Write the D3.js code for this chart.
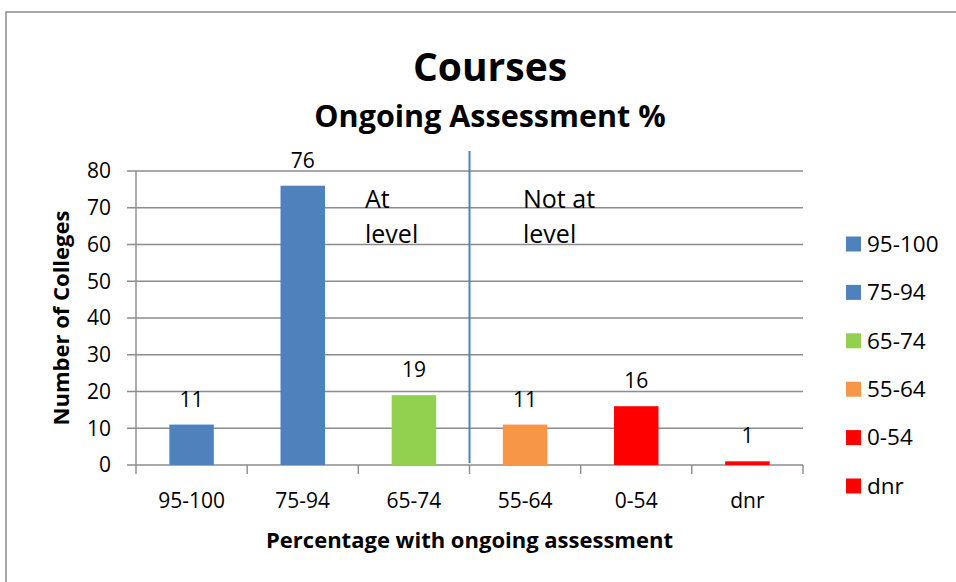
<!DOCTYPE html>
<html>
<head>
<meta charset="utf-8">
<script src="https://cdn.jsdelivr.net/npm/d3@7"></script>
<style>
  body { margin: 0; background: #fff; }
  svg text { font-family: "Open Sans", "Noto Sans", sans-serif; fill: #000; }
</style>
</head>
<body>
<div id="chart"></div>
<script>
// Chart data
let categories = ["95-100", "75-94", "65-74", "55-64", "0-54", "dnr"];
let counts = [11, 76, 19, 11, 16, 1];
let barColors = ["#4F81BD", "#4F81BD", "#92D050", "#F79646", "#FF0000", "#FF0000"];
let yTicks = [0, 10, 20, 30, 40, 50, 60, 70, 80];

let width = 956;
let height = 582;
let plot = { left: 136, right: 803, top: 171, bottom: 465 };

let svg = d3.select("#chart")
    .append("svg")
    .attr("width", width)
    .attr("height", height);

// outer chart border (runs off the page on right and bottom)
svg.append("rect")
    .attr("x", 6)
    .attr("y", 12)
    .attr("width", 1000)
    .attr("height", 1000)
    .attr("fill", "none")
    .attr("stroke", "#8a8a8a")
    .attr("stroke-width", 1.5);

let x = d3.scaleBand()
    .domain(categories)
    .range([plot.left, plot.right])
    .paddingInner(0.6)
    .paddingOuter(0.3);

let y = d3.scaleLinear()
    .domain([0, 80])
    .range([plot.bottom, plot.top]);

// gridlines
svg.append("g")
    .selectAll("line")
    .data(yTicks)
    .join("line")
    .attr("x1", plot.left - 9)
    .attr("x2", plot.right)
    .attr("y1", (d) => y(d))
    .attr("y2", (d) => y(d))
    .attr("stroke", "#8c8c8c")
    .attr("stroke-width", 1.4);

// y axis line
svg.append("line")
    .attr("x1", plot.left)
    .attr("x2", plot.left)
    .attr("y1", plot.top)
    .attr("y2", plot.bottom)
    .attr("stroke", "#8c8c8c")
    .attr("stroke-width", 1.4);

// x tick marks at category boundaries
let step = x.step();
let boundaries = d3.range(categories.length + 1).map((i) => plot.left + i * step);
svg.append("g")
    .selectAll("line")
    .data(boundaries)
    .join("line")
    .attr("x1", (d) => d)
    .attr("x2", (d) => d)
    .attr("y1", plot.bottom)
    .attr("y2", plot.bottom + 9)
    .attr("stroke", "#8c8c8c")
    .attr("stroke-width", 1.4);

// y tick labels
svg.append("g")
    .selectAll("text")
    .data(yTicks)
    .join("text")
    .attr("x", 111)
    .attr("y", (d) => y(d))
    .attr("dy", "0.35em")
    .attr("text-anchor", "end")
    .style("font-size", "21px")
    .text((d) => d);

// x tick labels
svg.append("g")
    .selectAll("text")
    .data(categories)
    .join("text")
    .attr("x", (d) => x(d) + x.bandwidth() / 2)
    .attr("y", 508)
    .attr("text-anchor", "middle")
    .style("font-size", "21px")
    .text((d) => d);

// bars
svg.append("g")
    .selectAll("rect")
    .data(categories)
    .join("rect")
    .attr("x", (d) => x(d))
    .attr("width", x.bandwidth())
    .attr("y", (d, i) => y(counts[i]))
    .attr("height", (d, i) => plot.bottom - y(counts[i]))
    .attr("fill", (d, i) => barColors[i]);

// value labels
svg.append("g")
    .selectAll("text")
    .data(categories)
    .join("text")
    .attr("x", (d) => x(d) + x.bandwidth() / 2)
    .attr("y", (d, i) => y(counts[i]) - 18)
    .attr("text-anchor", "middle")
    .style("font-size", "21px")
    .text((d, i) => counts[i]);

// divider between "at level" and "not at level"
let divider = boundaries[3];
svg.append("line")
    .attr("x1", divider)
    .attr("x2", divider)
    .attr("y1", 151)
    .attr("y2", 463)
    .attr("stroke", "#4F81BD")
    .attr("stroke-width", 2);

// annotations
function note(lines, left) {
    let t = svg.append("text")
        .attr("x", left)
        .attr("y", 208)
        .style("font-size", "25px");
    lines.forEach((s, i) => {
        t.append("tspan")
            .attr("x", left)
            .attr("dy", i === 0 ? 0 : 35)
            .text(s);
    });
}
note(["At", "level"], 365);
note(["Not at", "level"], 523);

// titles
svg.append("text")
    .attr("x", 490)
    .attr("y", 81)
    .attr("text-anchor", "middle")
    .style("font-size", "39px")
    .style("font-weight", "bold")
    .text("Courses");

svg.append("text")
    .attr("x", 490)
    .attr("y", 127)
    .attr("text-anchor", "middle")
    .style("font-size", "30.5px")
    .style("font-weight", "bold")
    .text("Ongoing Assessment %");

svg.append("text")
    .attr("transform", `translate(69, ${(plot.top + plot.bottom) / 2}) rotate(-90)`)
    .attr("text-anchor", "middle")
    .style("font-size", "22px")
    .style("font-weight", "bold")
    .text("Number of Colleges");

svg.append("text")
    .attr("x", (plot.left + plot.right) / 2)
    .attr("y", 548)
    .attr("text-anchor", "middle")
    .style("font-size", "22px")
    .style("font-weight", "bold")
    .text("Percentage with ongoing assessment");

// legend
let legend = svg.append("g")
    .selectAll("g")
    .data(categories)
    .join("g")
    .attr("transform", (d, i) => `translate(846, ${244 + i * 48.4})`);

legend.append("rect")
    .attr("x", 0)
    .attr("y", -7.5)
    .attr("width", 15)
    .attr("height", 15)
    .attr("fill", (d, i) => barColors[i]);

legend.append("text")
    .attr("x", 21)
    .attr("y", 0)
    .attr("dy", "0.35em")
    .style("font-size", "22.5px")
    .text((d) => d);
</script>
</body>
</html>
